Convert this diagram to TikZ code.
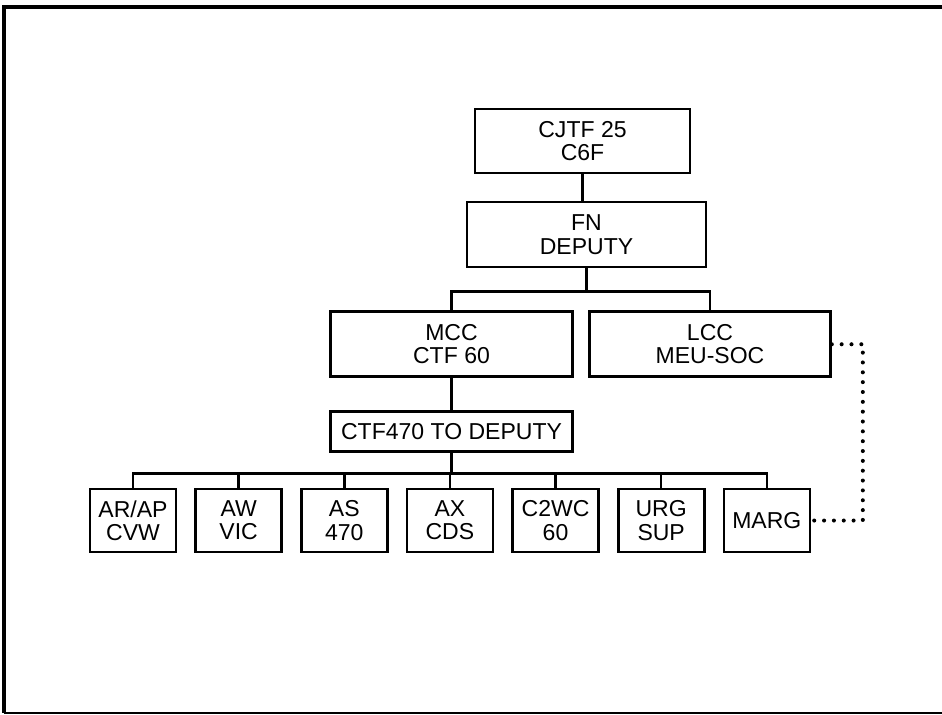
\documentclass[tikz,border=0pt]{standalone}
\usepackage{fontspec}
\setmainfont{Liberation Sans}
\usepackage{tikz}
\usetikzlibrary{positioning}
\tikzset{
    topbox/.style={rectangle, minimum height=1.3cm, align=center, draw=black, line width=1.5pt, inner sep=2pt, font=\fontsize{13.1}{13.2}\selectfont},
    midbox/.style={rectangle, minimum width=4.84cm, minimum height=0.8cm, align=center, draw=black, line width=1.5pt, inner sep=2pt, font=\fontsize{13.1}{13.2}\selectfont},
    unitbox/.style={rectangle, minimum width=1.72cm, minimum height=1.26cm, align=center, draw=black, line width=1.5pt, inner sep=2pt, font=\fontsize{13.1}{13.2}\selectfont},
    link/.style={line width=1.4pt},
    dotline/.style={line width=2.3pt, line cap=round, dash pattern=on 0pt off 5.6pt}
}
\begin{document}
\begin{tikzpicture}[node distance=0.84cm and 0.34cm]
    \useasboundingbox (0,-14.3) rectangle (18.84,0);
    % frame
    \draw [line width=2.2pt] (0.08,-14.26) -- (0.08,-0.14) -- (18.84,-0.14);
    \draw [line width=0.8pt] (0.08,-14.26) -- (18.84,-14.26);

    \node (cjtf) [topbox, minimum width=4.3cm, minimum height=1.28cm] at (11.65,-2.82) {CJTF 25\\C6F};
    \node (fn) [topbox, minimum width=4.78cm, below=0.53cm of cjtf, xshift=0.08cm] {FN\\DEPUTY};
    \node (mcc) [topbox, minimum width=4.84cm, below=of fn, xshift=-2.7cm] {MCC\\CTF 60};
    \node (lcc) [topbox, minimum width=4.82cm, below=of fn, xshift=2.47cm] {LCC\\MEU-SOC};
    \node (ctf) [midbox, below=0.64cm of mcc] {CTF470 TO DEPUTY};

    \node (arap) [unitbox, below=0.7cm of ctf, xshift=-6.37cm] {AR/AP\\CVW};
    \node (aw) [unitbox, right=of arap] {AW\\VIC};
    \node (as) [unitbox, right=of aw] {AS\\470};
    \node (ax) [unitbox, right=of as] {AX\\CDS};
    \node (cwc) [unitbox, right=of ax] {C2WC\\60};
    \node (urg) [unitbox, right=of cwc] {URG\\SUP};
    \node (marg) [unitbox, right=of urg] {MARG};

    \draw [link] (cjtf.south) -- (cjtf.south |- fn.north);
    \draw [link] (fn.south) -- ++(0,-0.46) -| (mcc.north);
    \draw [link] (fn.south) -- ++(0,-0.46) -| (lcc.north);
    \draw [link] (mcc.south) -- (ctf.north);
    \draw [link] (ctf.south) -- ++(0,-0.42) -| (arap.north);
    \draw [link] (ctf.south) -- ++(0,-0.42) -| (aw.north);
    \draw [link] (ctf.south) -- ++(0,-0.42) -| (as.north);
    \draw [link] (ctf.south) -- ++(0,-0.42) -| (ax.north);
    \draw [link] (ctf.south) -- ++(0,-0.42) -| (cwc.north);
    \draw [link] (ctf.south) -- ++(0,-0.42) -| (urg.north);
    \draw [link] (ctf.south) -- ++(0,-0.42) -| (marg.north);
    \draw [dotline] (lcc.east) -- ++(0.62,0) |- (marg.east);
\end{tikzpicture}
\end{document}
